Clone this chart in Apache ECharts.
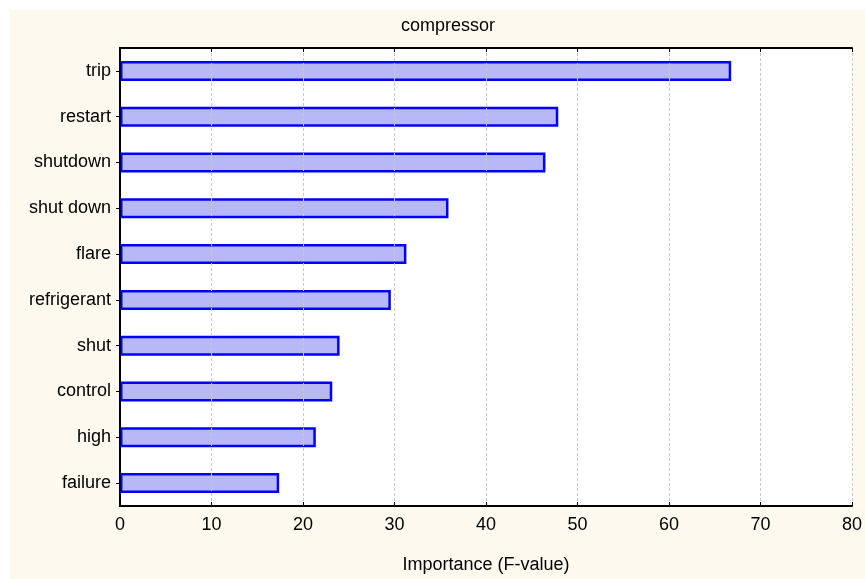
<!DOCTYPE html>
<html><head><meta charset="utf-8">
<script src="https://cdn.jsdelivr.net/npm/echarts@6/dist/echarts.min.js"></script>
<style>html,body{margin:0;padding:0;background:#fff;}#bg{position:absolute;left:10px;top:10px;width:855px;height:569px;background:#fdf9ef;}#c{position:absolute;left:0;top:0;width:865px;height:579px;}</style>
</head><body><div id="bg"></div><div id="c"></div>
<script>
const categories = ['trip','restart','shutdown','shut down','flare','refrigerant','shut','control','high','failure'];
const values = [66.8, 47.9, 46.5, 35.9, 31.3, 29.6, 24.0, 23.2, 21.4, 17.4];
const xTicks = [0,10,20,30,40,50,60,70,80];
const titleText = 'compressor';
const xName = 'Importance (F-value)';
const font = 'Liberation Sans, Arial, sans-serif';
const fs = 18;
const chart = echarts.init(document.getElementById('c'));
chart.setOption({
  animation:false,
  backgroundColor:'transparent',
  title:{text:titleText,left:443,top:12,textAlign:'center',textStyle:{fontFamily:font,fontSize:fs,fontWeight:'normal',color:'#000'}},
  grid:{left:120,right:12,top:48,bottom:72,show:true,backgroundColor:'#ffffff',borderWidth:0},
  xAxis:[{type:'value',min:xTicks[0],max:xTicks[xTicks.length-1],interval:10,position:'bottom',z:5,
    axisLine:{show:true,lineStyle:{color:'#000',width:2}},
    axisTick:{show:true,inside:true,length:4,lineStyle:{color:'#000'}},
    axisLabel:{fontFamily:font,fontSize:fs,color:'#000',margin:10},
    splitLine:{show:true,lineStyle:{color:'#c8c8c8',type:[3,2],width:1}},
    name:xName,nameLocation:'middle',nameGap:50,nameTextStyle:{fontFamily:font,fontSize:fs,color:'#000'}},
   {type:'value',min:0,max:80,interval:10,position:'top',z:5,
    axisLine:{show:true,lineStyle:{color:'#000',width:2}},
    axisTick:{show:true,inside:true,length:4,lineStyle:{color:'#000'}},
    axisLabel:{show:false},splitLine:{show:false}}],
  yAxis:[{type:'category',data:categories,inverse:true,position:'left',z:5,
    axisLine:{show:true,lineStyle:{color:'#000',width:2}},
    axisTick:{show:false},
    axisLabel:{fontFamily:font,fontSize:fs,color:'#000',margin:9}},
   {type:'category',data:categories,inverse:true,position:'right',z:5,
    axisLine:{show:true,lineStyle:{color:'#000',width:2}},
    axisTick:{show:true,inside:true,length:4,alignWithLabel:true,lineStyle:{color:'#000'}},
    axisLabel:{show:false}}],
  series:[{type:'bar',data:values,xAxisIndex:0,yAxisIndex:0,barWidth:20,z:1,
    itemStyle:{color:'#b8b8f6',borderColor:'#0000ff',borderWidth:2.5}}]
});
</script></body></html>
